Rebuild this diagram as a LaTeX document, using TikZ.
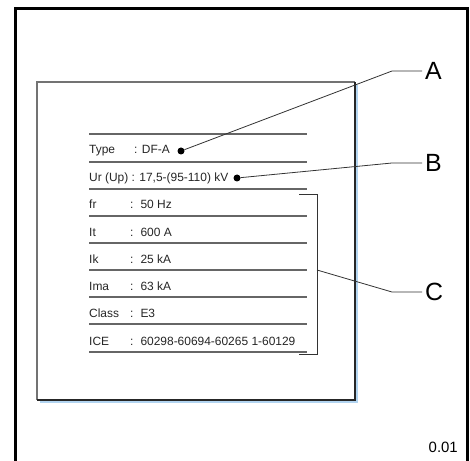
\documentclass[tikz,border=0pt]{standalone}
\usepackage{fontspec}
\setmainfont{Liberation Sans}
\usetikzlibrary{positioning}
\definecolor{plateblue}{RGB}{178,212,240}

\begin{document}
\begin{tikzpicture}[x=1bp,y=-1bp,
	row/.style={anchor=base west,inner sep=0pt,font=\fontsize{12}{15}\selectfont,text=black!85},
	rule/.style={draw=black!60,line width=1.2bp},
	pin/.style={circle,fill=black,inner sep=0pt,minimum size=7bp},
	leader/.style={draw=black!80,line width=0.8bp},
	letter/.style={anchor=west,inner sep=3bp,font=\fontsize{25}{30}\selectfont}]
			\useasboundingbox (0,0) rectangle (470,461);
			% frame
			\draw[line width=3bp] (15.3,465) -- (15.3,8.7) -- (467,8.7) -- (467,465);
			% plate
			\fill[plateblue] (40,85) rectangle (358,403);
			\fill[white] (37,82) rectangle (355,400);
			\draw[black!55,line width=1.5bp] (355,82) -- (37,82) -- (37,400);
			\draw[black!85,line width=1.2bp] (37,400) -- (355,400) -- (355,82);
			\foreach \y in {134,162,189,216,243,270,297,324,352}
				\draw[rule] (89,\y) -- (307,\y);
	
			\node[row] (type) at (89,154) {Type};
			\node[row] (typev) at (134,154) {: DF-A};
			\node[pin] (dotA) at (181,151) {};
			\node[row] (ur) at (89,182) {Ur (Up) : 17,5-(95-110) kV};
			\node[pin] (dotB) at (237,178) {};
			\foreach \y/\k/\v in {209/fr/50 Hz,236/It/600 A,263/Ik/25 kA,290/Ima/63 kA,317/Class/E3,345/ICE/60298-60694-60265 1-60129}{
				\node[row] (\k) at (89,\y) {\k};
				\node[row] (\k v) at (130,\y) {:\hspace{7bp}\v};
			}
			% bracket
			\draw[black!80,line width=1bp] (299,195) -| (317,354) -- (299,354);
			\coordinate (brC) at (317,270);
	
			\node[letter] (A) at (422,71) {A};
			\node[letter] (B) at (422,163) {B};
			\node[letter] (C) at (422,292) {C};
			\coordinate (kA) at (392,71);
			\coordinate (kB) at (392,163);
			\coordinate (kC) at (392,292);
			\draw[leader] (dotA) -- (kA) -- (A);
			\draw[leader] (dotB) -- (kB) -- (B);
			\draw[leader] (brC) -- (kC) -- (C);
	
			\node[anchor=base east,inner sep=0pt,font=\fontsize{15}{18}\selectfont] (num) at (458,452) {0.01};
			\end{tikzpicture}
\end{document}
